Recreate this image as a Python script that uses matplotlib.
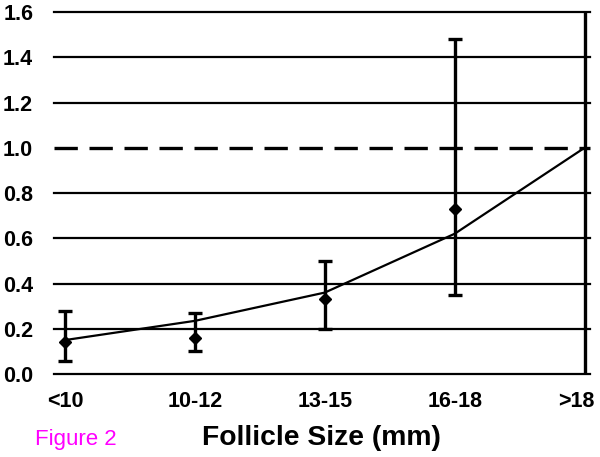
import numpy as np
import matplotlib.pyplot as plt
import matplotlib.transforms as mtransforms

plt.rcParams['font.family'] = ['Liberation Sans', 'DejaVu Sans']

# categories and values
sizes = ['<10', '10-12', '13-15', '16-18', '>18']
odds = [0.14, 0.16, 0.33, 0.73]
err_lo = [0.057, 0.10, 0.20, 0.35]
err_hi = [0.28, 0.27, 0.50, 1.48]
fit = [0.15, 0.235, 0.36, 0.62, 1.0]
ref_range = [0.0, 1.6]
yticks = [0.0, 0.2, 0.4, 0.6, 0.8, 1.0, 1.2, 1.4, 1.6]

fig = plt.figure(figsize=(6, 4.57), dpi=100)
ax = fig.add_axes([0.09, 0.1816, 0.893, 0.7921])

x = np.arange(len(sizes))

# horizontal grid, dashed reference at 1.0
for v in yticks:
    if v == 1.0:
        ax.axhline(v, color='black', lw=2.4, ls=(0, (7, 3.5)), clip_on=False, zorder=1)
    else:
        ax.axhline(v, color='black', lw=1.6, clip_on=False, zorder=1)

# vertical line for the reference group
ax.vlines(x[-1], ref_range[0], ref_range[1], color='black', lw=2.4, clip_on=False, zorder=2)

# fitted trend
ax.plot(x, fit, color='black', lw=1.6, zorder=3)

# points with error bars
yerr = [np.array(odds) - np.array(err_lo), np.array(err_hi) - np.array(odds)]
ax.errorbar(x[:-1], odds, yerr=yerr, fmt='D', color='black', ms=6,
            elinewidth=2.4, capsize=5, capthick=2.4, zorder=4, clip_on=False)

ax.set_xlim(-0.085, 4.04)
ax.set_ylim(0, 1.6)
ax.set_xticks(x)
ax.set_xticklabels(sizes, fontsize=15.5, fontweight='bold')
ax.set_yticks(yticks)
ax.set_yticklabels([f'{v:.1f}' for v in yticks], fontsize=15.5, fontweight='bold')
ax.tick_params(length=0)
ax.tick_params(axis='y', pad=15)
ax.tick_params(axis='x', pad=12)
for s in ax.spines.values():
    s.set_visible(False)

# last label sits a bit left so it stays inside the figure
last = ax.get_xticklabels()[-1]
last.set_transform(last.get_transform() + mtransforms.ScaledTranslation(-0.08, 0, fig.dpi_scale_trans))

fig.text(0.535, 0.027, 'Follicle Size (mm)', fontsize=20.3, fontweight='bold', ha='center')
fig.text(0.058, 0.027, 'Figure 2', fontsize=16, color='#ff00ff', ha='left')

fig.savefig('out.png', dpi=100)
